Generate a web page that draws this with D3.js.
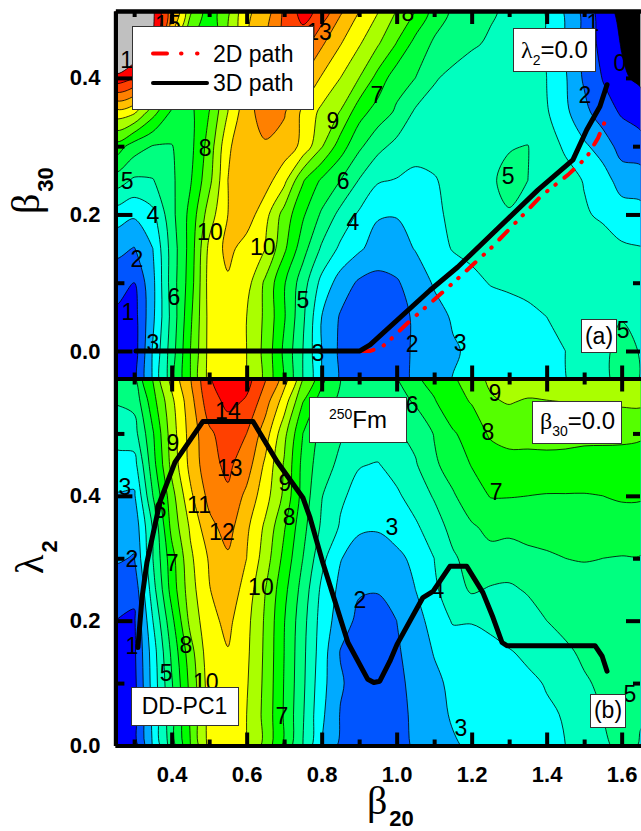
<!DOCTYPE html>
<html>
<head>
<meta charset="utf-8">
<script src="https://cdnjs.cloudflare.com/ajax/libs/d3/7.8.5/d3.min.js"></script>
<style>
  html, body { margin: 0; padding: 0; background: #fff; }
  text { font-family: "Liberation Sans", Arial, sans-serif; fill: #000; }
  .tick text { font-size: 22px; font-weight: bold; }
  .greek { font-family: "Liberation Serif", serif; }
  .clabel { font-size: 23px; text-anchor: middle; dominant-baseline: central; }
</style>
</head>
<body>
<div id="chart"></div>
<script>
// grid columns, deformation beta20
var beta20 = [0.25,0.30,0.35,0.40,0.45,0.50,0.55,0.60,0.65,0.70,0.75,0.80,0.85,0.90,0.95,1.00,1.05,1.10,1.15,1.20,1.25,1.30,1.35,1.40,1.45,1.50,1.55,1.60,1.65];

// panel (a) rows, beta30
var beta30 = [-0.05,0,0.05,0.10,0.15,0.20,0.25,0.30,0.35,0.40,0.45,0.50];
var energyA = [
  [.55,.5,3.1,5.5,8.0,10.3,10.8,10.0,8.7,6.8,5.0,3.0,1.8,1.4,1.3,1.5,2.2,2.6,3.05,3.1,3.35,3.5,3.65,3.8,3.95,4.3,4.75,5.3,4.95],
  [.55,.5,3.1,5.5,8.0,10.3,10.8,10.0,8.7,6.8,5.0,3.0,1.8,1.4,1.3,1.5,2.2,2.6,2.9,3.15,3.4,3.5,3.7,3.85,4.0,4.4,4.8,5.3,4.95],
  [.85,.6,2.8,5.3,7.8,10.3,10.8,10.0,8.8,7.1,5.2,3.0,1.9,1.4,1.3,1.5,2.2,2.65,3.1,3.4,3.5,3.65,3.8,4.0,4.2,4.5,4.75,4.95,4.9],
  [1.3,1.0,2.75,5.45,7.5,10.4,10.85,10.4,8.8,7.1,5.45,3.7,2.55,1.85,1.7,1.9,2.45,3.1,3.5,3.75,4.05,4.15,4.25,4.45,4.7,4.75,4.7,4.65,4.6],
  [2.3,1.95,3.0,5.4,7.4,10.25,11.3,10.55,10.0,8.2,6.4,4.85,3.8,3.15,2.55,2.6,3.05,3.65,4.05,4.25,4.4,4.5,4.6,4.7,4.8,4.65,4.4,4.15,4.05],
  [3.45,3.15,3.75,5.7,7.3,9.5,11.0,11.55,10.35,8.6,7.15,5.85,4.7,3.85,3.1,3.05,3.5,3.85,4.15,4.6,4.7,4.95,4.9,4.55,4.5,4.1,3.85,3.45,3.35],
  [5.5,4.85,4.95,5.8,6.9,8.7,11.0,11.7,11.45,10.3,8.1,6.85,6.0,4.95,4.1,3.95,3.7,3.9,4.4,4.75,4.9,5.2,5.0,4.7,4.35,3.95,3.4,2.6,2.5],
  [7.6,6.5,5.95,5.95,6.7,8.4,10.8,11.85,11.9,11.6,10.75,9.1,7.5,6.2,5.3,4.7,4.45,4.5,4.6,4.8,4.9,4.95,5.02,4.45,3.85,3.15,2.6,1.55,1.4],
  [10.6,10.2,8.4,6.85,6.75,8.0,10.0,11.7,12.4,12.1,10.8,9.75,8.95,7.4,6.55,5.85,4.85,4.6,4.55,4.5,4.5,4.45,4.4,4.1,3.2,2.3,1.4,.9,.55],
  [14.7,14.0,11.5,8.8,7.1,7.0,9.7,11.3,12.5,12.9,12.0,10.9,10.0,9.0,7.65,6.4,6.0,5.1,4.75,4.6,4.55,4.5,4.45,4.0,3.1,1.85,.95,.15,-.2],
  [17,16.3,15,10.5,8.0,6.9,9.0,11.0,12.0,13.2,13.5,12.15,11.05,10.1,9.1,7.95,6.65,5.85,5.45,5.1,4.9,4.75,4.5,3.95,2.95,1.75,.6,-.05,-.5],
  [17.5,16.5,15.2,12.4,9.2,7.4,8.7,10.85,11.3,13.2,14.4,13.7,12.2,11.05,10.1,9.0,8.05,6.6,5.85,5.35,5.1,4.85,4.6,3.9,2.85,1.7,.4,-.3,-.7]
];

// panel (b) rows, lambda2
var lambda2 = [0,0.05,0.10,0.15,0.20,0.25,0.30,0.35,0.40,0.45,0.50,0.55,0.60];
var energyB = [
  [.55,.5,3.1,5.5,8.0,10.3,10.8,10.0,8.7,6.8,5.0,3.0,1.8,1.4,1.3,1.5,2.2,2.6,2.9,3.15,3.4,3.5,3.7,3.85,4.0,4.4,4.8,5.3,4.95],
  [.5,.6,3.25,5.7,8.15,10.35,10.85,10.0,8.7,6.9,5.1,3.2,1.95,1.5,1.4,1.6,2.25,2.7,3.1,3.3,3.5,3.6,3.8,3.9,4.05,4.5,5.0,5.3,5.05],
  [.55,.7,3.4,5.9,8.3,10.45,10.9,10.1,8.75,6.95,5.2,3.35,2.1,1.6,1.5,1.7,2.35,2.8,3.2,3.4,3.6,3.75,3.85,4.05,4.3,4.9,5.15,5.3,5.2],
  [.6,.8,3.5,6.2,8.6,10.6,10.95,10.2,8.8,7.0,5.25,3.5,1.95,1.65,1.55,1.85,2.5,3.05,3.35,3.6,3.75,3.95,4.15,4.4,4.85,5.15,5.3,5.5,5.5],
  [1.0,.85,4.0,6.7,9.3,10.7,11.25,10.3,8.85,7.05,5.35,3.6,2.5,1.75,1.7,2.0,2.7,3.3,4.1,4.05,4.2,4.4,4.6,5.0,5.25,5.45,5.6,5.7,5.7],
  [1.55,1.25,4.6,7.4,9.6,10.95,11.65,10.6,9.0,7.3,5.6,3.8,2.75,2.1,2.05,2.3,3.0,3.85,4.5,5.15,4.9,4.85,5.1,5.3,5.5,5.65,5.75,5.85,5.85],
  [2.1,1.95,5.0,7.6,9.8,11.1,11.85,11.0,9.5,7.7,6.0,4.3,3.05,2.55,2.5,2.8,3.2,4.0,4.85,5.4,5.75,5.55,5.75,5.85,6.0,6.05,6.0,5.95,5.95],
  [2.5,2.3,5.1,8.3,10.15,11.7,12.4,11.2,9.8,8.1,6.3,4.85,3.9,3.15,3.1,3.35,3.85,4.5,5.35,5.9,6.2,6.25,6.35,6.45,6.55,6.6,6.6,6.6,6.55],
  [2.9,2.85,6.0,8.6,10.8,12.3,12.85,11.75,10.4,8.8,6.6,5.05,4.15,3.7,3.55,3.85,4.4,5.1,5.9,6.5,7.05,7.05,7.0,6.95,6.95,6.95,7.0,7.1,7.1],
  [3.6,3.6,6.6,9.3,11.3,12.7,13.2,12.5,10.8,8.9,6.7,5.4,4.8,4.05,3.95,4.35,4.9,5.85,6.4,7.05,7.4,7.65,7.65,7.65,7.65,7.55,7.6,7.65,7.7],
  [4.4,4.6,6.9,9.5,11.4,12.8,13.55,13.0,11.5,9.3,7.0,5.7,5.1,4.65,4.55,4.9,5.3,6.05,6.9,7.4,8.15,8.35,8.35,8.4,8.35,8.3,8.25,8.2,8.1],
  [5.05,5.25,7.6,9.75,11.6,13.6,14.2,13.9,12.4,10.5,8.0,6.5,5.8,5.25,5.15,5.6,6.1,6.9,7.65,8.05,8.9,9.05,8.9,8.95,9.0,9.05,9.1,9.15,9.2],
  [5.9,6.15,8.2,10.45,11.8,13.9,14.9,14.35,13.3,11.7,9.35,7.55,5.95,5.6,5.5,6.1,6.9,7.5,8.0,8.6,9.2,9.55,9.65,9.7,9.75,9.75,9.8,9.8,9.85]
];

// contour levels and the colour of the band above each level
var levels = [-5,0,1,2,3,4,5,6,7,8,9,10,11,12,13,14,15];
var bandColors = ["#000000","#0000ff","#0055ff","#00aaff","#00ffff","#00ffbf","#00ff80","#00ff40","#00ff00","#55ff00","#aaff00","#ffff00","#ffbf00","#ff8000","#ff4000","#ff0000","#c0c0c0"];

// fission paths
var path3dBeta = [.305,.902,.929,1.089,1.163,1.377,1.47,1.507,1.542,1.561];
var path3dB30 = [0,0,.009,.089,.123,.236,.28,.324,.358,.39];
var path2dBeta = [.907,.929,.961,.982,1.035,1.094,1.161,1.252,1.342,1.385,1.457,1.507,1.537,1.563];
var path2dB30 = [0,0,.006,.016,.044,.072,.105,.151,.202,.227,.258,.284,.312,.346];
var pathLamBeta = [.31,.321,.334,.369,.409,.483,.617,.681,.75,.769,.803,.87,.923,.939,.955,.982,1.001,1.07,1.097,1.142,1.187,1.23,1.257,1.281,1.294,1.529,1.548,1.561];
var pathLam = [.157,.237,.293,.391,.454,.519,.519,.455,.397,.365,.293,.165,.106,.101,.103,.135,.162,.237,.247,.287,.287,.245,.205,.165,.16,.16,.143,.119];

// contour labels: text, beta20, other coordinate
var labelsA = [["1",.283,.057],["2",.307,.135],["3",.35,.012],["4",.35,.199],["5",.281,.249],["6",.406,.079],["8",.489,.297],["10",.502,.174],["10",.643,.152],["9",.83,.337],["7",.947,.375],["6",.857,.249],["4",.883,.189],["5",.75,.075],["3",.79,-.003],["2",1.041,.01],["3",1.169,.012],["5",1.297,.256],["2",1.502,.375],["5",1.604,.031],["15",.297,.426],["15",.39,.479],["13",.793,.467],["8",1.03,.495],["1",1.523,.481],["0",1.595,.422]];
var labelsB = [["14",.55,.536],["13",.555,.445],["12",.534,.342],["11",.473,.385],["9",.403,.485],["3",.275,.414],["6",.369,.377],["2",.294,.299],["7",.401,.292],["9",.702,.421],["8",.713,.366],["6",1.041,.546],["9",1.262,.565],["8",1.243,.502],["7",1.265,.406],["3",.987,.35],["10",.638,.254],["2",.902,.233],["1",.294,.159],["8",.438,.161],["5",.385,.116],["10",.491,.102],["7",.694,.047],["4",1.11,.249],["3",1.171,.028],["5",1.622,.083]];

var xMajor = [0.4,0.6,0.8,1.0,1.2,1.4,1.6];
var xMinor = [0.3,0.5,0.7,0.9,1.1,1.3,1.5];
var yMajor = [0.0,0.2,0.4];
var yMinorA = [0.1,0.3];
var yMinorB = [0.1,0.3,0.5];

var width = 641, height = 831;
var svg = d3.select("#chart").append("svg")
  .attr("width", width).attr("height", height)
  .style("display", "block");

var x = d3.scaleLinear().domain([0.25, 1.65]).range([115.4, 640.4]);
var yA = d3.scaleLinear().domain([-0.0403, 0.498]).range([378.5, 11]);
var yB = d3.scaleLinear().domain([0, 0.588]).range([745.5, 378.5]);

var line = function (sx, sy) {
  return d3.line().x(function (d) { return sx(d[0]); }).y(function (d) { return sy(d[1]); });
};

function drawPanel(id, rows, rowValues, y) {
  var n = beta20.length, m = rowValues.length;
  var values = [];
  rows.forEach(function (r) { r.forEach(function (v) { values.push(v); }); });

  var contours = d3.contours().size([n, m]).thresholds(levels)(values);

  // grid index to pixels, the grid points sit at i + 0.5
  var toPx = function (p) {
    var b = beta20[0] + (p[0] - 0.5) * (beta20[1] - beta20[0]);
    var v = rowValues[0] + (p[1] - 0.5) * (rowValues[1] - rowValues[0]);
    return [x(b), y(v)];
  };
  // round the iso lines off a little instead of straight cell segments
  var ring = d3.line().curve(d3.curveCatmullRomClosed.alpha(0.5));
  var pathOf = function (c) {
    var d = "";
    c.coordinates.forEach(function (poly) {
      poly.forEach(function (r) {
        d += ring(r.slice(0, -1).map(toPx));
      });
    });
    return d;
  };

  svg.append("clipPath").attr("id", id)
    .append("rect")
    .attr("x", x.range()[0]).attr("y", y.range()[1])
    .attr("width", x.range()[1] - x.range()[0])
    .attr("height", y.range()[0] - y.range()[1]);

  var g = svg.append("g").attr("clip-path", "url(#" + id + ")");

  g.selectAll("path.band").data(contours).enter().append("path")
    .attr("class", "band")
    .attr("d", pathOf)
    .attr("fill-rule", "evenodd")
    .attr("fill", function (d, i) { return bandColors[i]; })
    .attr("stroke", "none");

  g.selectAll("path.iso").data(contours.slice(1)).enter().append("path")
    .attr("class", "iso")
    .attr("d", pathOf)
    .attr("fill", "none")
    .attr("stroke", "#000")
    .attr("stroke-width", 0.8);

  return g;
}

function drawLabels(g, labels, y) {
  g.selectAll("text.clabel").data(labels).enter().append("text")
    .attr("class", "clabel")
    .attr("x", function (d) { return x(d[1]); })
    .attr("y", function (d) { return y(d[2]); })
    .text(function (d) { return d[0]; });
}

var gA = drawPanel("clipA", energyA, beta30, yA);
var gB = drawPanel("clipB", energyB, lambda2, yB);

drawLabels(gA, labelsA, yA);
drawLabels(gB, labelsB, yB);

// paths
gA.append("path")
  .datum(d3.zip(path2dBeta, path2dB30))
  .attr("d", line(x, yA))
  .attr("fill", "none").attr("stroke", "#ff0000").attr("stroke-width", 4)
  .attr("stroke-linecap", "round")
  .attr("stroke-dasharray", "12 11 0.5 10 0.5 11");

gA.append("path")
  .datum(d3.zip(path3dBeta, path3dB30))
  .attr("d", line(x, yA))
  .attr("fill", "none").attr("stroke", "#000").attr("stroke-width", 5)
  .attr("stroke-linejoin", "round").attr("stroke-linecap", "round");

gB.append("path")
  .datum(d3.zip(pathLamBeta, pathLam))
  .attr("d", line(x, yB))
  .attr("fill", "none").attr("stroke", "#000").attr("stroke-width", 5)
  .attr("stroke-linejoin", "round").attr("stroke-linecap", "round");

// axes, major and minor ticks all point inwards
function styleAxis(a) {
  a.selectAll("path.domain").attr("stroke", "#000").attr("stroke-width", 4);
  a.selectAll(".tick line").attr("stroke", "#000").attr("stroke-width", 4);
}
function xTicks(y0, sign, withText) {
  var major = svg.append("g").attr("transform", "translate(0," + y0 + ")")
    .call(d3.axisBottom(x).tickValues(xMajor).tickSize(sign * 13).tickSizeOuter(0)
      .tickFormat(withText ? d3.format(".1f") : ""));
  var minor = svg.append("g").attr("transform", "translate(0," + y0 + ")")
    .call(d3.axisBottom(x).tickValues(xMinor).tickSize(sign * 6).tickSizeOuter(0).tickFormat(""));
  styleAxis(major); styleAxis(minor);
  if (withText) {
    major.selectAll(".tick text").attr("y", 31).attr("dy", 0).attr("fill", "#000")
      .attr("dominant-baseline", "middle");
  }
}
function yTicks(y, majors, minors) {
  var left = svg.append("g").attr("transform", "translate(115.4,0)")
    .call(d3.axisLeft(y).tickValues(majors).tickSize(-17).tickSizeOuter(0).tickFormat(d3.format(".1f")));
  var leftMinor = svg.append("g").attr("transform", "translate(115.4,0)")
    .call(d3.axisLeft(y).tickValues(minors).tickSize(-9).tickSizeOuter(0).tickFormat(""));
  var right = svg.append("g").attr("transform", "translate(640,0)")
    .call(d3.axisRight(y).tickValues(majors).tickSize(-14).tickSizeOuter(0).tickFormat(""));
  var rightMinor = svg.append("g").attr("transform", "translate(640,0)")
    .call(d3.axisRight(y).tickValues(minors).tickSize(-7).tickSizeOuter(0).tickFormat(""));
  [left, leftMinor, right, rightMinor].forEach(styleAxis);
  [right, rightMinor].forEach(function (a) { a.selectAll("path.domain").remove(); });
  left.selectAll(".tick text").attr("x", -15).attr("fill", "#000");
}

xTicks(yA.range()[1], 1, false);
xTicks(yA.range()[0], -1, false);
xTicks(yB.range()[1], 1, false);
xTicks(yB.range()[0], -1, true);
yTicks(yA, yMajor, yMinorA);
yTicks(yB, yMajor, yMinorB);

// boxes on top of the map
function box(x0, y0, w, h) {
  svg.append("rect").attr("x", x0).attr("y", y0).attr("width", w).attr("height", h)
    .attr("fill", "#fff").attr("stroke", "#333").attr("stroke-width", 1);
}

box(132.5, 26.5, 181, 83);
svg.append("line").attr("x1", 153).attr("x2", 206).attr("y1", 53.5).attr("y2", 53.5)
  .attr("stroke", "#ff0000").attr("stroke-width", 4).attr("stroke-linecap", "round")
  .attr("stroke-dasharray", "14 14 0.5 15.5 0.5 14");
svg.append("line").attr("x1", 153).attr("x2", 207).attr("y1", 83).attr("y2", 83)
  .attr("stroke", "#000").attr("stroke-width", 4).attr("stroke-linecap", "round");
svg.append("text").attr("x", 213).attr("y", 62).style("font-size", "23px").text("2D path");
svg.append("text").attr("x", 213).attr("y", 91).style("font-size", "23px").text("3D path");

box(513.5, 28.5, 82, 43);
var t1 = svg.append("text").attr("x", 521).attr("y", 58);
t1.append("tspan").attr("class", "greek").style("font-size", "24px").text("λ");
t1.append("tspan").attr("dy", 7).style("font-size", "14px").text("2");
t1.append("tspan").attr("dy", -7).style("font-size", "24px").text("=0.0");

box(581.5, 319.5, 35, 33);
svg.append("text").attr("x", 599).attr("y", 344).attr("text-anchor", "middle").style("font-size", "23px").text("(a)");

box(309.5, 397.5, 97, 45);
var t2 = svg.append("text").attr("x", 329).attr("y", 428);
t2.append("tspan").attr("dy", -9).style("font-size", "14px").text("250");
t2.append("tspan").attr("dy", 9).style("font-size", "24px").text("Fm");

box(532.5, 401.5, 89, 42);
var t3 = svg.append("text").attr("x", 540).attr("y", 429);
t3.append("tspan").attr("class", "greek").style("font-size", "24px").text("β");
t3.append("tspan").attr("dy", 7).style("font-size", "14px").text("30");
t3.append("tspan").attr("dy", -7).style("font-size", "24px").text("=0.0");

box(131.5, 687.5, 107, 38);
svg.append("text").attr("x", 184.5).attr("y", 714).attr("text-anchor", "middle").style("font-size", "23px").text("DD-PC1");

box(590.5, 694.5, 35, 33);
svg.append("text").attr("x", 608).attr("y", 718).attr("text-anchor", "middle").style("font-size", "23px").text("(b)");

// axis titles
var tx = svg.append("text").attr("x", 367).attr("y", 814);
tx.append("tspan").attr("class", "greek").style("font-size", "40px").text("β");
tx.append("tspan").attr("dx", 2).attr("dy", 12).style("font-size", "22px").style("font-weight", "bold").text("20");

var ty1 = svg.append("text").attr("transform", "translate(39,214) rotate(-90)");
ty1.append("tspan").attr("class", "greek").style("font-size", "40px").text("β");
ty1.append("tspan").attr("dx", 2).attr("dy", 14).style("font-size", "22px").style("font-weight", "bold").text("30");

var ty2 = svg.append("text").attr("transform", "translate(43,574) rotate(-90)");
ty2.append("tspan").attr("class", "greek").style("font-size", "40px").text("λ");
ty2.append("tspan").attr("dx", 2).attr("dy", 14).style("font-size", "22px").style("font-weight", "bold").text("2");
</script>
</body>
</html>
